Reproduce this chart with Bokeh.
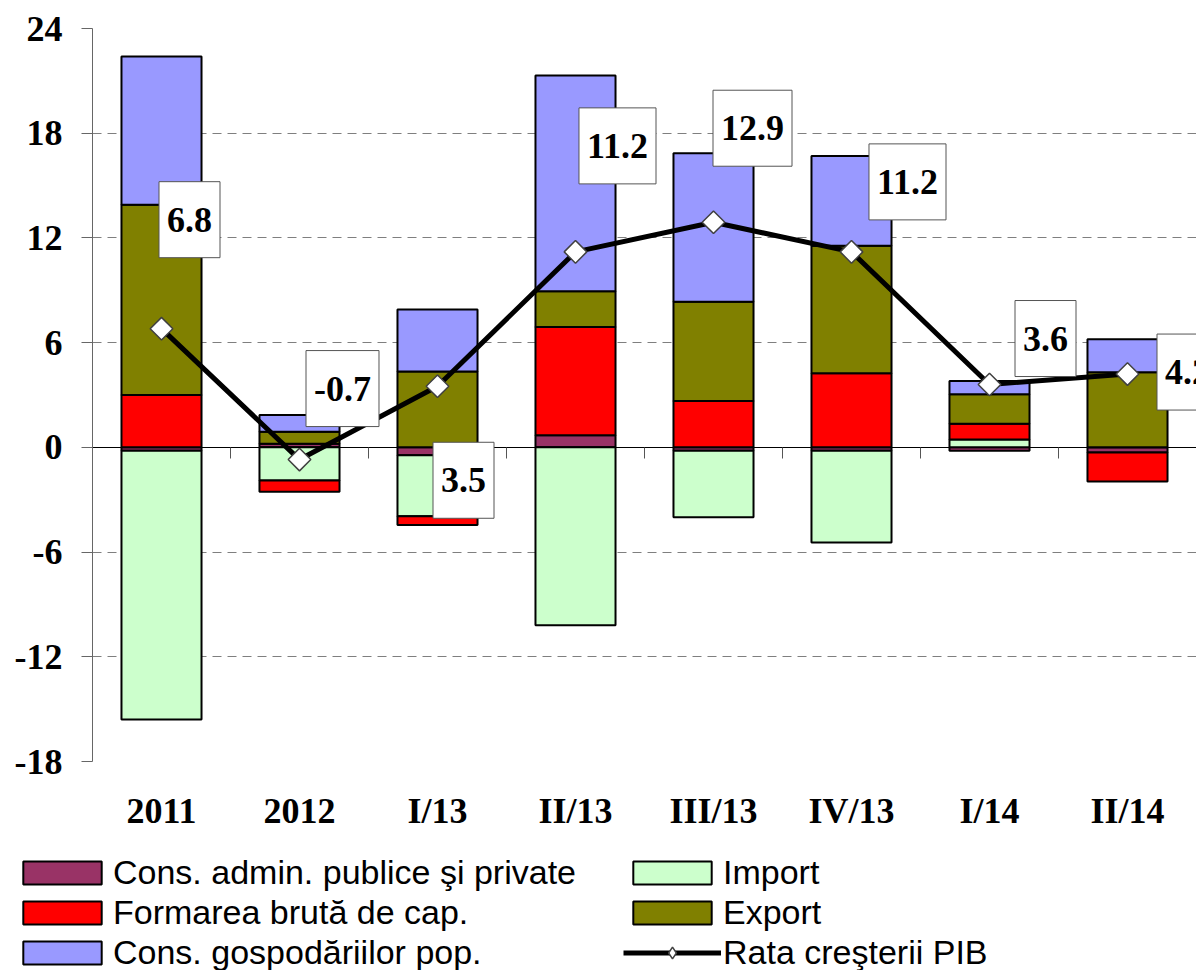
import numpy as np
from bokeh.plotting import figure
from bokeh.models import Range1d, FixedTicker, LinearAxis, Legend, LegendItem, Label
from bokeh.embed import file_html
from bokeh.resources import INLINE

# ---------------- data ----------------
categories = ["2011", "2012", "I/13", "II/13", "III/13", "IV/13", "I/14", "II/14"]
cons_admin = [-0.2, 0.2, -0.45, 0.7, -0.2, -0.2, -0.2, -0.3]
import_vals = [-15.4, -1.9, -3.5, -10.2, -3.8, -5.25, 0.45, 0.0]
formarea = [3.0, -0.65, -0.5, 6.2, 2.65, 4.25, 0.9, -1.65]
export_vals = [10.9, 0.7, 4.35, 2.05, 5.7, 7.3, 1.7, 4.3]
cons_gosp = [8.5, 0.95, 3.55, 12.35, 8.5, 5.15, 0.75, 1.9]
pib = [6.8, -0.7, 3.5, 11.2, 12.9, 11.2, 3.6, 4.2]
y_ticks = [-18, -12, -6, 0, 6, 12, 18, 24]

series_names = ["Cons. admin. publice şi private", "Import", "Formarea brută de cap.",
                "Export", "Cons. gospodăriilor pop."]
line_name = "Rata creşterii PIB"

# ---------------- styles ----------------
series_colors = ["#993366", "#CCFFCC", "#FF0000", "#808000", "#9999FF"]
label_dx = [28, 43, 26, 42, 39, 56, 56, 60]
label_dy = [109, 71, -94, 106, 94, 70, 46, 2]

x = list(range(len(categories)))

p = figure(width=1196, height=849, x_range=Range1d(-0.5, 7.5), y_range=Range1d(-18, 24),
           output_backend="svg", toolbar_location=None,
           min_border_left=92, min_border_right=0, min_border_top=28, min_border_bottom=88)
p.outline_line_color = None
p.background_fill_color = "white"
p.border_fill_color = "white"

p.xgrid.visible = False
p.ygrid.ticker = FixedTicker(ticks=y_ticks)
p.ygrid.grid_line_color = "#7f7f7f"
p.ygrid.grid_line_dash = "9 6"
p.ygrid.grid_line_width = 1

yax = p.yaxis[0]
yax.ticker = FixedTicker(ticks=y_ticks)
yax.major_label_overrides = {t: str(t) for t in y_ticks}
yax.major_tick_in = 0
yax.major_tick_out = 11
yax.minor_tick_line_color = None
yax.axis_line_color = "#666666"
yax.major_tick_line_color = "#666666"
yax.major_label_text_font = "Liberation Serif"
yax.major_label_text_font_style = "bold"
yax.major_label_text_font_size = "36px"
yax.major_label_text_color = "black"
yax.major_label_standoff = 19

xax = p.xaxis[0]
xax.ticker = FixedTicker(ticks=x)
xax.major_label_overrides = {i: c for i, c in enumerate(categories)}
xax.axis_line_color = None
xax.major_tick_line_color = None
xax.major_tick_in = 0
xax.major_tick_out = 0
xax.minor_tick_line_color = None
xax.major_label_text_font = "Liberation Serif"
xax.major_label_text_font_style = "bold"
xax.major_label_text_font_size = "36px"
xax.major_label_text_color = "black"
xax.major_label_standoff = 29

# axis line at zero with category separator ticks
sep_ticks = [i + 0.5 for i in x[:-1]]
zax = LinearAxis(fixed_location=0, ticker=FixedTicker(ticks=sep_ticks))
zax.major_label_overrides = {t: "" for t in sep_ticks}
zax.major_label_text_font_size = "0px"
zax.major_label_standoff = 0
zax.major_tick_in = 0
zax.major_tick_out = 11
zax.minor_tick_line_color = None
zax.axis_line_color = "black"
zax.axis_line_width = 1
zax.major_tick_line_color = "#555555"
p.add_layout(zax, "below")

# ---------------- stacked bars ----------------
pos = [0.0] * len(x)
neg = [0.0] * len(x)
for vals, color in zip([cons_admin, import_vals, formarea, export_vals, cons_gosp], series_colors):
    bottoms, tops = [], []
    for i, v in enumerate(vals):
        if v >= 0:
            bottoms.append(pos[i]); tops.append(pos[i] + v); pos[i] += v
        else:
            bottoms.append(neg[i]); tops.append(neg[i] + v); neg[i] += v
    p.vbar(x=x, bottom=bottoms, top=tops, width=0.58, fill_color=color,
           line_color="black", line_width=2)

# ---------------- GDP line ----------------
p.line(x, pib, line_color="black", line_width=5)
p.scatter(x, pib, marker="square", angle=np.pi / 4, size=16,
          fill_color="white", line_color="#404040", line_width=1.5)

for i, v in enumerate(pib):
    p.add_layout(Label(x=x[i], y=v, x_offset=label_dx[i], y_offset=label_dy[i], text=f"{v}",
                       text_align="center", text_baseline="middle",
                       text_font="Liberation Serif", text_font_style="bold", text_font_size="36px",
                       text_color="black", background_fill_color="white",
                       border_line_color="#555555", border_line_width=1,
                       padding=dict(left=8, right=8, top=26, bottom=26)))

# ---------------- legend (separate strip below the chart) ----------------
q = figure(width=1196, height=121, x_range=Range1d(0, 1), y_range=Range1d(0, 1),
           output_backend="svg", toolbar_location=None,
           min_border=0, min_border_left=0, min_border_right=0, min_border_top=0, min_border_bottom=0)
q.axis.visible = False
q.grid.visible = False
q.outline_line_color = None
q.background_fill_color = "white"
q.border_fill_color = "white"

leg_renderers = []
for color in series_colors:
    r = q.vbar(x=[0], bottom=[0], top=[0], width=0.5, fill_color=color,
               line_color="black", line_width=2)
    r.visible = False
    leg_renderers.append(r)
leg_line = q.line(x=[0, 1], y=[0, 0], line_color="black", line_width=5)
leg_line.visible = False
leg_mark = q.scatter(x=[0], y=[0], marker="diamond", size=22,
                     fill_color="white", line_color="#404040", line_width=1.5)
leg_mark.visible = False

common = dict(glyph_width=98, glyph_height=29, label_standoff=2, spacing=1, label_height=33,
              padding=0, margin=0, border_line_color=None, background_fill_alpha=0,
              inactive_fill_alpha=0,
              label_text_font="Liberation Sans", label_text_font_size="34px",
              label_text_color="black", orientation="vertical")
leg1 = Legend(items=[LegendItem(label=series_names[0], renderers=[leg_renderers[0]]),
                     LegendItem(label=series_names[2], renderers=[leg_renderers[2]]),
                     LegendItem(label=series_names[4], renderers=[leg_renderers[4]])],
              location=(13, -2), **common)
leg2 = Legend(items=[LegendItem(label=series_names[1], renderers=[leg_renderers[1]]),
                     LegendItem(label=series_names[3], renderers=[leg_renderers[3]]),
                     LegendItem(label=line_name, renderers=[leg_line, leg_mark])],
              location=(623, -2), **common)
q.add_layout(leg1, "center")
q.add_layout(leg2, "center")

open("out.html", "w").write(file_html([p, q], INLINE))
